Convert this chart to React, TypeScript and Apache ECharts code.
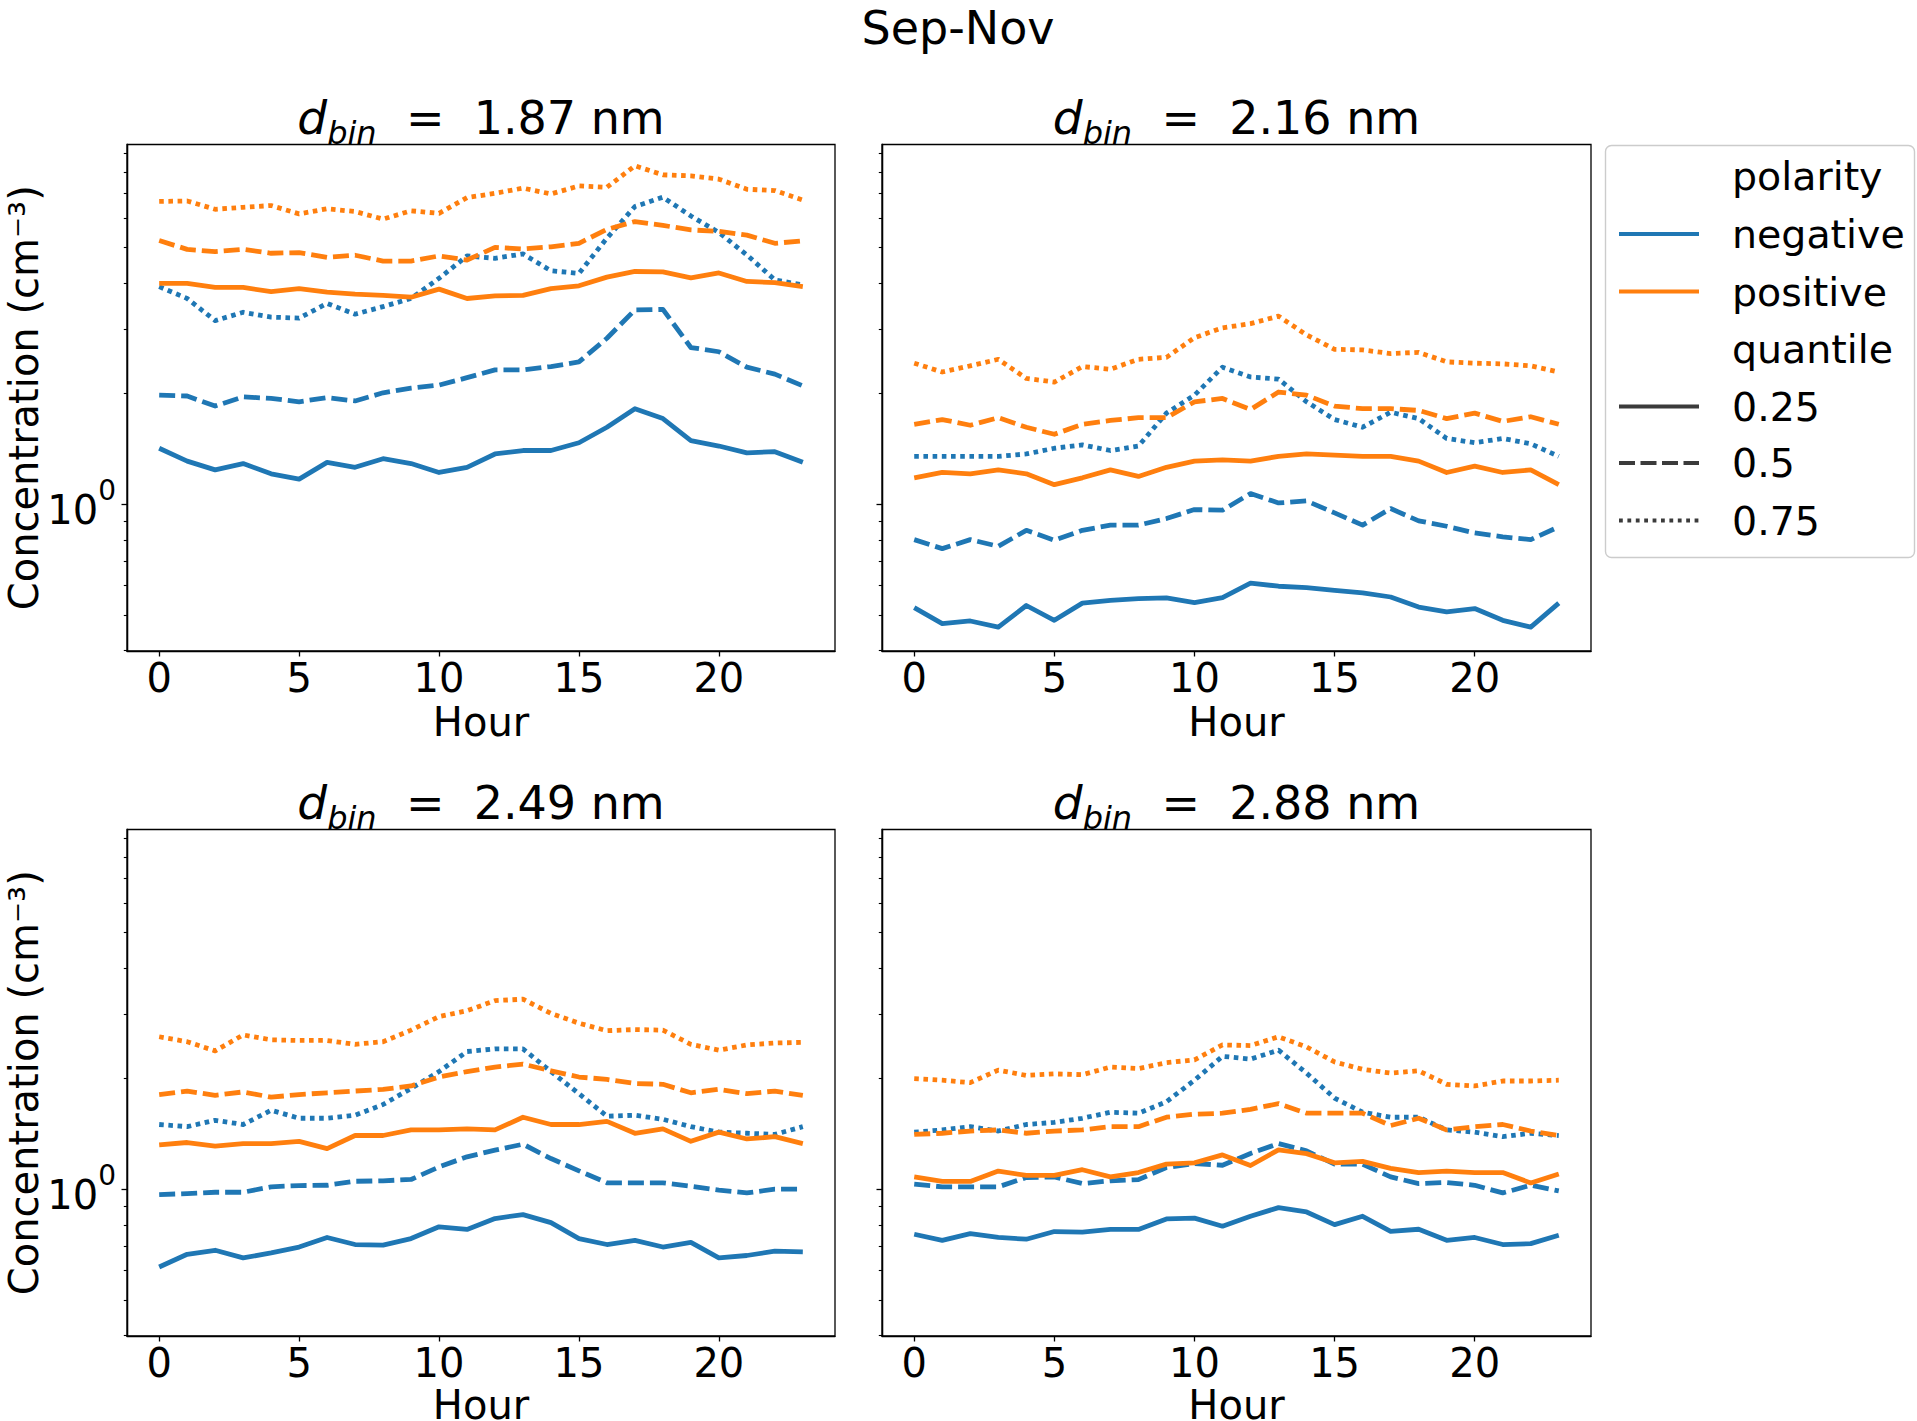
import React, { useEffect, useRef } from "react";
import * as echarts from "echarts";

// ---------------- data ----------------
const HOURS = [0, 1, 2, 3, 4, 5, 6, 7, 8, 9, 10, 11, 12, 13, 14, 15, 16, 17, 18, 19, 20, 21, 22, 23];
const X_TICKS = [0, 5, 10, 15, 20];
const X_RANGE = [-1.15, 24.15];
const Y_RANGE = [0.3985, 9.53];
const Y_MAJOR_TICKS = [1];
const Y_MINOR_TICKS = [0.4, 0.5, 0.6, 0.7, 0.8, 0.9, 2, 3, 4, 5, 6, 7, 8, 9];
const SUPTITLE = "Sep-Nov";
const X_LABEL = "Hour";
const Y_LABEL = "Concentration (cm\u207B\u00B3)";
const DIAMETERS_NM = ["1.87", "2.16", "2.49", "2.88"];
const POLARITIES = ["negative", "positive"];
const QUANTILES = ["0.25", "0.5", "0.75"];

// d = 1.87 nm
const d187_neg_q25 = [1.42, 1.31, 1.24, 1.29, 1.21, 1.17, 1.30, 1.26, 1.33, 1.29, 1.22, 1.26, 1.37, 1.40, 1.40, 1.47, 1.62, 1.82, 1.71, 1.49, 1.44, 1.38, 1.39, 1.30];
const d187_neg_q50 = [1.98, 1.97, 1.85, 1.96, 1.94, 1.90, 1.95, 1.91, 2.01, 2.07, 2.11, 2.21, 2.32, 2.32, 2.37, 2.44, 2.83, 3.38, 3.39, 2.67, 2.60, 2.36, 2.26, 2.10];
const d187_neg_q75 = [3.91, 3.63, 3.16, 3.33, 3.23, 3.21, 3.52, 3.29, 3.45, 3.63, 4.12, 4.74, 4.67, 4.80, 4.32, 4.25, 5.30, 6.46, 6.85, 6.09, 5.49, 4.77, 4.08, 3.95];
const d187_pos_q25 = [3.99, 3.99, 3.89, 3.89, 3.79, 3.86, 3.78, 3.73, 3.70, 3.66, 3.85, 3.63, 3.69, 3.70, 3.86, 3.93, 4.15, 4.30, 4.29, 4.13, 4.26, 4.04, 4.01, 3.91];
const d187_pos_q50 = [5.22, 4.94, 4.87, 4.94, 4.82, 4.84, 4.70, 4.76, 4.59, 4.59, 4.74, 4.62, 5.00, 4.95, 5.02, 5.13, 5.60, 5.88, 5.74, 5.58, 5.53, 5.40, 5.13, 5.21];
const d187_pos_q75 = [6.67, 6.69, 6.35, 6.43, 6.50, 6.17, 6.37, 6.26, 5.97, 6.29, 6.19, 6.83, 7.02, 7.25, 6.99, 7.35, 7.29, 8.34, 7.88, 7.83, 7.67, 7.20, 7.14, 6.73];

// d = 2.16 nm
const d216_neg_q25 = [0.523, 0.473, 0.481, 0.463, 0.530, 0.483, 0.538, 0.547, 0.553, 0.556, 0.540, 0.557, 0.610, 0.598, 0.593, 0.583, 0.574, 0.559, 0.525, 0.509, 0.520, 0.483, 0.463, 0.538];
const d216_neg_q50 = [0.801, 0.757, 0.801, 0.768, 0.849, 0.798, 0.849, 0.877, 0.877, 0.914, 0.967, 0.963, 1.069, 1.008, 1.021, 0.947, 0.877, 0.973, 0.901, 0.871, 0.835, 0.815, 0.801, 0.868];
const d216_neg_q75 = [1.35, 1.35, 1.35, 1.35, 1.37, 1.42, 1.45, 1.40, 1.44, 1.77, 1.98, 2.36, 2.22, 2.19, 1.90, 1.70, 1.62, 1.78, 1.71, 1.51, 1.47, 1.51, 1.46, 1.35];
const d216_pos_q25 = [1.18, 1.22, 1.21, 1.24, 1.21, 1.13, 1.18, 1.24, 1.19, 1.26, 1.31, 1.32, 1.31, 1.35, 1.37, 1.36, 1.35, 1.35, 1.31, 1.22, 1.27, 1.22, 1.24, 1.13];
const d216_pos_q50 = [1.65, 1.70, 1.64, 1.72, 1.62, 1.55, 1.65, 1.69, 1.72, 1.72, 1.90, 1.94, 1.81, 2.02, 1.98, 1.85, 1.82, 1.82, 1.80, 1.71, 1.77, 1.68, 1.73, 1.65];
const d216_pos_q75 = [2.42, 2.29, 2.38, 2.48, 2.20, 2.15, 2.37, 2.33, 2.48, 2.51, 2.84, 3.02, 3.10, 3.25, 2.89, 2.64, 2.63, 2.57, 2.59, 2.44, 2.42, 2.41, 2.38, 2.29];

// d = 2.49 nm
const d249_neg_q25 = [0.614, 0.665, 0.682, 0.650, 0.671, 0.696, 0.739, 0.707, 0.704, 0.734, 0.790, 0.777, 0.832, 0.853, 0.811, 0.734, 0.707, 0.726, 0.696, 0.717, 0.650, 0.660, 0.678, 0.675];
const d249_neg_q50 = [0.967, 0.973, 0.981, 0.981, 1.015, 1.023, 1.025, 1.051, 1.054, 1.063, 1.150, 1.225, 1.277, 1.326, 1.212, 1.122, 1.041, 1.041, 1.041, 1.019, 0.994, 0.977, 1.000, 1.000];
const d249_neg_q75 = [1.50, 1.48, 1.54, 1.50, 1.64, 1.56, 1.56, 1.59, 1.70, 1.88, 2.09, 2.37, 2.41, 2.41, 2.09, 1.82, 1.58, 1.59, 1.55, 1.48, 1.43, 1.42, 1.41, 1.48];
const d249_pos_q25 = [1.32, 1.34, 1.31, 1.33, 1.33, 1.35, 1.29, 1.40, 1.40, 1.45, 1.45, 1.46, 1.45, 1.57, 1.50, 1.50, 1.53, 1.42, 1.46, 1.35, 1.43, 1.37, 1.39, 1.33];
const d249_pos_q50 = [1.81, 1.85, 1.80, 1.84, 1.78, 1.81, 1.83, 1.85, 1.87, 1.91, 2.02, 2.09, 2.15, 2.19, 2.10, 2.02, 1.99, 1.94, 1.93, 1.83, 1.87, 1.82, 1.85, 1.80];
const d249_pos_q75 = [2.60, 2.52, 2.38, 2.63, 2.55, 2.54, 2.54, 2.48, 2.52, 2.71, 2.95, 3.06, 3.26, 3.29, 3.01, 2.83, 2.70, 2.72, 2.71, 2.48, 2.39, 2.47, 2.50, 2.51];

// d = 2.88 nm
const d288_neg_q25 = [0.754, 0.726, 0.757, 0.739, 0.731, 0.767, 0.764, 0.777, 0.777, 0.830, 0.834, 0.793, 0.844, 0.891, 0.867, 0.801, 0.844, 0.768, 0.778, 0.726, 0.739, 0.707, 0.711, 0.749];
const d288_neg_q50 = [1.032, 1.015, 1.015, 1.015, 1.076, 1.080, 1.036, 1.054, 1.062, 1.146, 1.175, 1.162, 1.251, 1.331, 1.272, 1.170, 1.170, 1.080, 1.036, 1.043, 1.025, 0.977, 1.025, 0.989];
const d288_neg_q75 = [1.43, 1.45, 1.48, 1.44, 1.50, 1.52, 1.56, 1.62, 1.61, 1.73, 1.98, 2.30, 2.26, 2.39, 2.07, 1.77, 1.62, 1.57, 1.57, 1.45, 1.43, 1.39, 1.42, 1.40];
const d288_pos_q25 = [1.08, 1.05, 1.05, 1.12, 1.09, 1.09, 1.13, 1.08, 1.11, 1.17, 1.18, 1.24, 1.16, 1.28, 1.25, 1.18, 1.19, 1.14, 1.11, 1.12, 1.11, 1.11, 1.04, 1.10];
const d288_pos_q50 = [1.41, 1.42, 1.44, 1.45, 1.42, 1.44, 1.45, 1.48, 1.48, 1.57, 1.60, 1.61, 1.65, 1.71, 1.61, 1.61, 1.61, 1.49, 1.56, 1.45, 1.48, 1.50, 1.44, 1.40];
const d288_pos_q75 = [2.00, 1.98, 1.95, 2.11, 2.04, 2.06, 2.05, 2.15, 2.13, 2.21, 2.25, 2.47, 2.46, 2.60, 2.44, 2.22, 2.12, 2.07, 2.10, 1.93, 1.91, 1.97, 1.97, 1.98];

const PANEL_DATA = [
  { negative: [d187_neg_q25, d187_neg_q50, d187_neg_q75], positive: [d187_pos_q25, d187_pos_q50, d187_pos_q75] },
  { negative: [d216_neg_q25, d216_neg_q50, d216_neg_q75], positive: [d216_pos_q25, d216_pos_q50, d216_pos_q75] },
  { negative: [d249_neg_q25, d249_neg_q50, d249_neg_q75], positive: [d249_pos_q25, d249_pos_q50, d249_pos_q75] },
  { negative: [d288_neg_q25, d288_neg_q50, d288_neg_q75], positive: [d288_pos_q25, d288_pos_q50, d288_pos_q75] },
];

// ---------------- styling / layout ----------------
const FONT = "'DejaVu Sans', 'Noto Sans', sans-serif";
const COLORS: Record<string, string> = { negative: "#1f77b4", positive: "#ff7f0e" };
const LW = 4.8;
const LEG_LW = 3.8;
const DASHES: any[] = ["solid", [16, 6], [4.6, 4.6]];
const LEG_DASHES: any[] = [null, [16, 5.5], [3.8, 4.6]];
const GRID_BOXES = [
  { left: 127, top: 144.5, width: 708, height: 506.5 },
  { left: 882, top: 144.5, width: 709, height: 506.5 },
  { left: 127, top: 829.5, width: 708, height: 506.5 },
  { left: 882, top: 829.5, width: 709, height: 506.5 },
];
const X_NAME_GAPS = [57, 57, 55, 55];

const lg = (v: number) => Math.log10(v);

function buildOption() {
  const yMin = lg(Y_RANGE[0]);
  const yMax = lg(Y_RANGE[1]);
  const grid: any[] = [];
  const xAxis: any[] = [];
  const yAxis: any[] = [];
  const series: any[] = [];
  const graphic: any[] = [];
  const spine = { show: true, onZero: false, lineStyle: { color: "#000", width: 1.3 } };

  GRID_BOXES.forEach((b, p) => {
    grid.push({
      ...b,
      containLabel: false,
      outerBoundsMode: "none",
      show: true,
      borderColor: "#000",
      borderWidth: 1.3,
      backgroundColor: "transparent",
    });
    xAxis.push({
      type: "value",
      gridIndex: p,
      min: X_RANGE[0],
      max: X_RANGE[1],
      position: "bottom",
      axisLine: spine,
      splitLine: { show: false },
      axisTick: { show: true, inside: false, length: 5.5, customValues: X_TICKS, lineStyle: { color: "#000", width: 1.3 } },
      axisLabel: { show: true, customValues: X_TICKS, margin: 6.5, fontSize: 40, color: "#000", fontFamily: FONT },
      name: X_LABEL,
      nameLocation: "middle",
      nameGap: X_NAME_GAPS[p],
      nameMoveOverlap: false,
      nameTextStyle: { fontSize: 40, lineHeight: 28, color: "#000", fontFamily: FONT },
    });
    const leftCol = p % 2 === 0;
    yAxis.push({
      type: "value",
      gridIndex: p,
      min: yMin,
      max: yMax,
      position: "left",
      axisLine: spine,
      splitLine: { show: false },
      axisTick: { show: true, inside: false, length: 5.5, customValues: Y_MAJOR_TICKS.map(lg), lineStyle: { color: "#000", width: 1.3 } },
      axisLabel: {
        show: leftCol,
        customValues: Y_MAJOR_TICKS.map(lg),
        margin: 11,
        formatter: (v: number) => `{m|10}{s|${Math.round(v)}}`,
        rich: {
          m: { fontSize: 40, fontFamily: FONT, color: "#000", padding: [12, 0, 0, 0], verticalAlign: "middle" },
          s: { fontSize: 28, fontFamily: FONT, color: "#000", padding: [0, 0, 28, 0], verticalAlign: "middle" },
        },
      },
      name: leftCol ? Y_LABEL : "",
      nameLocation: "middle",
      nameRotate: 90,
      nameGap: 88,
      nameMoveOverlap: false,
      nameTextStyle: { fontSize: 40, lineHeight: 30, color: "#000", fontFamily: FONT },
    });
    yAxis.push({
      type: "value",
      gridIndex: p,
      min: yMin,
      max: yMax,
      position: "left",
      axisLine: spine,
      splitLine: { show: false },
      axisTick: { show: true, inside: false, length: 3.2, customValues: Y_MINOR_TICKS.map(lg), lineStyle: { color: "#000", width: 1.1 } },
      axisLabel: { show: false },
    });

    const pd: any = PANEL_DATA[p];
    POLARITIES.forEach((pol) => {
      QUANTILES.forEach((q, qi) => {
        const vals: number[] = pd[pol][qi];
        series.push({
          name: `${pol} ${q}`,
          type: "line",
          xAxisIndex: p,
          yAxisIndex: p * 2,
          data: HOURS.map((h, i) => [h, lg(vals[i])]),
          showSymbol: false,
          symbol: "none",
          silent: true,
          lineStyle: { color: COLORS[pol], width: LW, type: DASHES[qi], cap: "butt", join: "round" },
        });
      });
    });

    // subplot title
    graphic.push({
      type: "text",
      x: b.left + b.width / 2,
      y: b.top - 27,
      silent: true,
      style: {
        text: `{i|d}{s|bin}{t|\u00a0\u00a0=\u00a0\u00a0${DIAMETERS_NM[p]} nm}`,
        align: "center",
        verticalAlign: "middle",
        fill: "#000",
        rich: {
          i: { fontSize: 47, fontFamily: FONT, fontStyle: "italic", fill: "#000", verticalAlign: "middle" },
          s: { fontSize: 32, fontFamily: FONT, fontStyle: "italic", fill: "#000", padding: [30, 0, 0, 0], verticalAlign: "middle" },
          t: { fontSize: 46, fontFamily: FONT, fill: "#000", verticalAlign: "middle" },
        },
      },
    });
  });

  // suptitle
  graphic.push({
    type: "text",
    x: 958,
    y: 27.5,
    silent: true,
    style: { text: SUPTITLE, fontSize: 46, lineHeight: 36, fontFamily: FONT, fill: "#000", align: "center", verticalAlign: "middle" },
  });

  // legend
  graphic.push({
    type: "rect",
    silent: true,
    shape: { x: 1605.5, y: 145.5, width: 309, height: 412, r: 6 },
    style: { fill: "rgba(255,255,255,0.8)", stroke: "#cccccc", lineWidth: 1.4 },
    z: 20,
  });
  const legendRows: any[] = [
    { label: "polarity", y: 176 },
    { label: POLARITIES[0], y: 234, color: COLORS.negative, dash: LEG_DASHES[0] },
    { label: POLARITIES[1], y: 291.5, color: COLORS.positive, dash: LEG_DASHES[0] },
    { label: "quantile", y: 349 },
    { label: QUANTILES[0], y: 406.5, color: "#3b3b3b", dash: LEG_DASHES[0] },
    { label: QUANTILES[1], y: 463, color: "#3b3b3b", dash: LEG_DASHES[1] },
    { label: QUANTILES[2], y: 520.5, color: "#3b3b3b", dash: LEG_DASHES[2] },
  ];
  legendRows.forEach((r) => {
    if (r.color) {
      graphic.push({
        type: "line",
        silent: true,
        z: 21,
        shape: { x1: 1619, y1: r.y, x2: 1699, y2: r.y },
        style: { stroke: r.color, lineWidth: LEG_LW, lineDash: r.dash, lineCap: "butt" },
      });
    }
    graphic.push({
      type: "text",
      silent: true,
      z: 21,
      x: 1732,
      y: r.y,
      style: { text: r.label, fontSize: 39.5, fontFamily: FONT, fill: "#000", align: "left", verticalAlign: "middle" },
    });
  });

  return {
    animation: false,
    backgroundColor: "#ffffff",
    textStyle: { fontFamily: FONT },
    grid,
    xAxis,
    yAxis,
    series,
    graphic,
  };
}

export default function App() {
  const ref = useRef<HTMLDivElement>(null);
  useEffect(() => {
    if (!ref.current) return;
    const chart = echarts.init(ref.current, null, { renderer: "svg" });
    chart.setOption(buildOption() as any);
    return () => {
      chart.dispose();
    };
  }, []);
  return (
    <div
      ref={ref}
      style={{ position: "fixed", left: 0, top: 0, width: "1917px", height: "1421px", background: "#fff" }}
    />
  );
}
